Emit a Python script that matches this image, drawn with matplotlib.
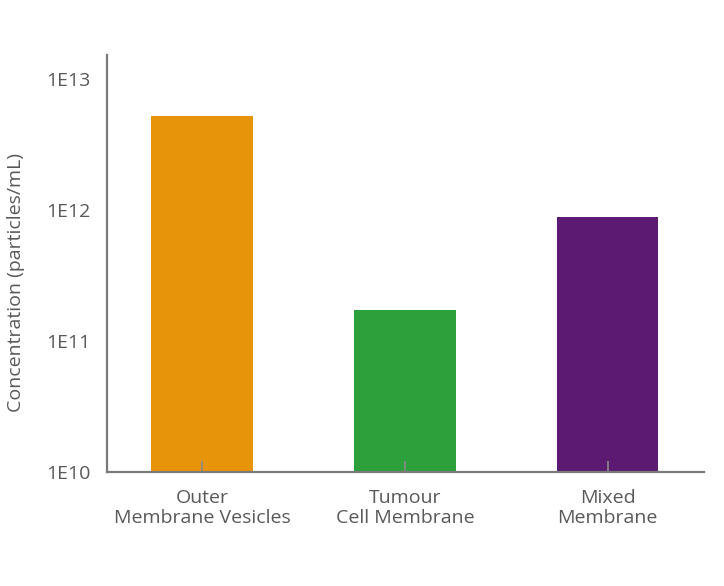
import matplotlib
matplotlib.use("Agg")
import matplotlib.pyplot as plt
from matplotlib.ticker import FixedLocator, FixedFormatter

categories = ["Outer\nMembrane Vesicles", "Tumour\nCell Membrane", "Mixed\nMembrane"]
concentrations = [5.2e12, 1.72e11, 8.9e11]
bar_colors = ["#E8940A", "#2CA03A", "#5C1A72"]
ytick_values = [1e10, 1e11, 1e12, 1e13]
ytick_labels = ["1E10", "1E11", "1E12", "1E13"]

plt.rcParams['font.family'] = ['Open Sans', 'DejaVu Sans']
grey = "#595959"
base = 1e10

fig = plt.figure(figsize=(7.24, 5.86), dpi=100)
ax = fig.add_axes([0.148, 0.1945, 0.824, 0.7115])

x = list(range(len(categories)))
ax.bar(x, [v - base for v in concentrations], width=0.5, color=bar_colors,
       bottom=base, zorder=1)

ax.set_yscale('log')
ax.set_ylim(base, 1.52e13)
ax.set_xlim(-0.468, 2.473)
ax.yaxis.set_major_locator(FixedLocator(ytick_values))
ax.yaxis.set_major_formatter(FixedFormatter(ytick_labels))
ax.yaxis.set_minor_locator(FixedLocator([]))
ax.tick_params(axis='y', length=0, pad=12, labelsize=14, labelcolor=grey)

ax.set_xticks(x)
ax.set_xticklabels(categories, linespacing=1.2)
ax.tick_params(axis='x', direction='in', length=8, width=1.2, color="#8a8a8a",
               labelsize=14, labelcolor=grey, pad=12)
for t in ax.get_xticklines():
    t.set_zorder(3)

ax.set_ylabel("Concentration (particles/mL)", fontsize=14, color=grey)
ax.yaxis.set_label_coords(-0.137, 0.455)

for s in ['top', 'right']:
    ax.spines[s].set_visible(False)
for s in ['left', 'bottom']:
    ax.spines[s].set_color("#7a7a7a")
    ax.spines[s].set_linewidth(1.6)

fig.savefig("out.png", dpi=100)
